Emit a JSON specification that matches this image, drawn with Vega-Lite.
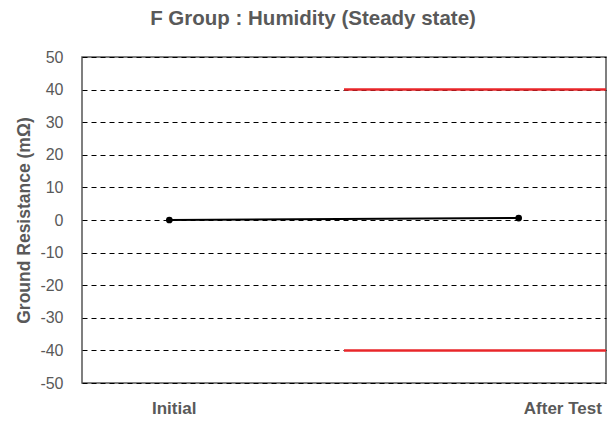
{
  "$schema": "https://vega.github.io/schema/vega-lite/v6.json",
  "autosize": {"type": "none"},
  "width": 524,
  "height": 326,
  "padding": {"left": 82, "top": 57, "right": 8, "bottom": 38},
  "background": "white",
  "title": {
    "text": "F Group : Humidity (Steady state)",
    "font": "Liberation Sans",
    "fontSize": 20.5,
    "fontWeight": "bold",
    "color": "#595959",
    "anchor": "middle",
    "dx": -31,
    "offset": 20
  },
  "config": {
    "view": {"stroke": "#555555", "strokeWidth": 1.5},
    "axis": {
      "labelFont": "Liberation Sans",
      "titleFont": "Liberation Sans",
      "labelColor": "#595959",
      "titleColor": "#595959",
      "zindex": 0
    }
  },
  "datasets": {
    "series": [
      {"stage": "Initial", "pos": 1, "value": 0},
      {"stage": "After Test", "pos": 5, "value": 0.6}
    ],
    "limits": [
      {"start": 3, "end": 6, "limit": 40},
      {"start": 3, "end": 6, "limit": -40}
    ]
  },
  "layer": [
    {
      "data": {"name": "limits"},
      "mark": {"type": "rule", "color": "#e8262a", "strokeWidth": 2.5},
      "encoding": {
        "x": {"field": "start", "type": "quantitative", "scale": {"domain": [0, 6]}},
        "x2": {"field": "end"},
        "y": {"field": "limit", "type": "quantitative", "scale": {"domain": [-50, 50]}}
      }
    },
    {
      "data": {"name": "series"},
      "mark": {"type": "line", "color": "black", "strokeWidth": 2, "point": {"filled": true, "color": "black", "size": 45}},
      "encoding": {
        "x": {
          "field": "pos",
          "type": "quantitative",
          "scale": {"domain": [0, 6], "nice": false},
          "axis": {
            "title": null,
            "values": [1.05, 5.5],
            "tickCount": 2,
            "labelExpr": "datum.value < 3 ? 'Initial' : 'After Test'",
            "grid": false,
            "domain": false,
            "ticks": false,
            "labelFontSize": 17,
            "labelFontWeight": "bold",
            "labelPadding": 17,
            "labelOverlap": false
          }
        },
        "y": {
          "field": "value",
          "type": "quantitative",
          "scale": {"domain": [-50, 50], "nice": false},
          "axis": {
            "title": "Ground Resistance (mΩ)",
            "titleFontSize": 17.5,
            "titleFontWeight": "bold",
            "titlePadding": 6,
            "values": [-50, -40, -30, -20, -10, 0, 10, 20, 30, 40, 50],
            "tickCount": 11,
            "labelExpr": "toString(datum.value)",
            "labelOverlap": false,
            "labelFontSize": 16,
            "labelPadding": 19,
            "ticks": false,
            "domain": false,
            "grid": true,
            "gridColor": "black",
            "gridDash": [5, 4],
            "gridWidth": 1,
            "gridOpacity": 1
          }
        }
      }
    }
  ]
}
